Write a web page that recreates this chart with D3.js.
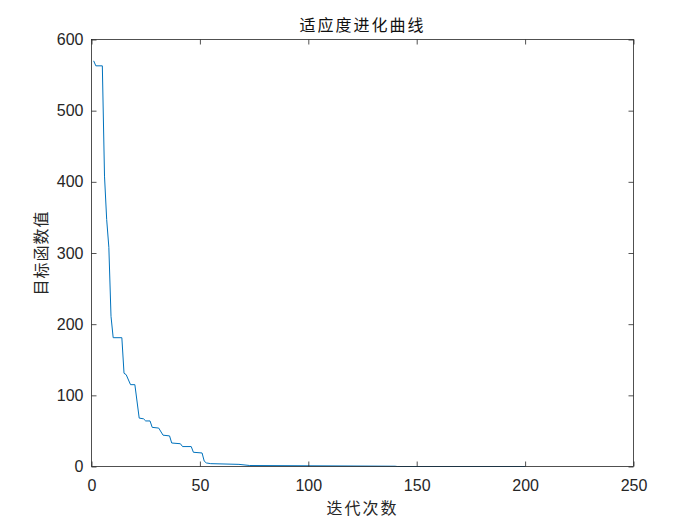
<!DOCTYPE html>
<html>
<head>
<meta charset="utf-8">
<script src="https://d3js.org/d3.v7.min.js"></script>
<style>
body { margin: 0; background: #fff; }
</style>
</head>
<body>
<div id="chart"></div>
<script>
/* data */
var iters  = [1, 2, 5, 6, 7, 8, 9, 10, 14, 15, 16, 18, 20, 22, 24, 25, 27, 28, 31, 33, 36, 37, 41, 42, 46, 47, 51, 52, 53, 55, 68, 73, 140, 141, 200];
var values = [570, 563, 563, 408, 347, 308, 211, 181, 181, 131, 129, 115, 115, 68, 67, 64, 64, 55, 54, 44, 43, 33, 32, 28, 28, 20, 19, 7.5, 5, 4, 3, 1.4, 0.4, 0, 0];
var xTicks = [0, 50, 100, 150, 200, 250];
var yTicks = [0, 100, 200, 300, 400, 500, 600];
var titleText = "适应度进化曲线";
var xLabel = "迭代次数";
var yLabel = "目标函数值";

var W = 700, H = 525;
var plotL = 91.5, plotR = 633.5, plotT = 39.5, plotB = 466.5;
var axisColor = "#262626";
var cjk = "'Noto Sans CJK SC', sans-serif";
var latin = "'Liberation Sans', Helvetica, Arial, sans-serif";

var svg = d3.select("#chart").append("svg")
    .attr("width", W)
    .attr("height", H);

svg.append("rect").attr("width", W).attr("height", H).attr("fill", "#fff");

var x = d3.scaleLinear().domain([0, 250]).range([plotL, plotR]);
var y = d3.scaleLinear().domain([0, 600]).range([plotB, plotT]);

// curve first, axes drawn over it
var line = d3.line()
    .x(function(d) { return x(d[0]); })
    .y(function(d) { return y(d[1]); });

svg.append("path")
    .datum(iters.map(function(v, i) { return [v, values[i]]; }))
    .attr("d", line)
    .attr("fill", "none")
    .attr("stroke", "#0072BD")
    .attr("stroke-width", 1);

function styleAxis(g, showText) {
    g.select(".domain").remove();
    g.selectAll(".tick line").attr("stroke", axisColor).attr("stroke-width", 0.8);
    g.selectAll(".tick text")
        .attr("fill", axisColor)
        .style("font-family", latin)
        .style("font-size", "16px")
        .style("display", showText ? null : "none");
}

svg.append("g")
    .attr("transform", "translate(0," + plotB + ")")
    .call(d3.axisBottom(x).tickValues(xTicks).tickSize(-5).tickPadding(13.5))
    .call(function(g) { styleAxis(g, true); });

svg.append("g")
    .attr("transform", "translate(0," + plotT + ")")
    .call(d3.axisTop(x).tickValues(xTicks).tickSize(-5))
    .call(function(g) { styleAxis(g, false); });

svg.append("g")
    .attr("transform", "translate(" + plotL + ",0)")
    .call(d3.axisLeft(y).tickValues(yTicks).tickSize(-5).tickPadding(8))
    .call(function(g) { styleAxis(g, true); });

svg.append("g")
    .attr("transform", "translate(" + plotR + ",0)")
    .call(d3.axisRight(y).tickValues(yTicks).tickSize(-5))
    .call(function(g) { styleAxis(g, false); });

// box
svg.append("rect")
    .attr("x", plotL)
    .attr("y", plotT)
    .attr("width", plotR - plotL)
    .attr("height", plotB - plotT)
    .attr("fill", "none")
    .attr("stroke", axisColor)
    .attr("stroke-width", 0.8);

// title and labels
svg.append("text")
    .attr("x", (plotL + plotR) / 2)
    .attr("y", 31)
    .attr("text-anchor", "middle")
    .attr("fill", "#111")
    .style("font-family", cjk)
    .style("font-size", "16px")
    .style("letter-spacing", "2px")
    .text(titleText);

svg.append("text")
    .attr("x", (plotL + plotR) / 2)
    .attr("y", 514)
    .attr("text-anchor", "middle")
    .attr("fill", axisColor)
    .style("font-family", cjk)
    .style("font-size", "16px")
    .style("letter-spacing", "2px")
    .text(xLabel);

svg.append("text")
    .attr("transform", "translate(46.5,253) rotate(-90)")
    .attr("text-anchor", "middle")
    .attr("fill", axisColor)
    .style("font-family", cjk)
    .style("font-size", "16px")
    .style("letter-spacing", "1px")
    .text(yLabel);
</script>
</body>
</html>
